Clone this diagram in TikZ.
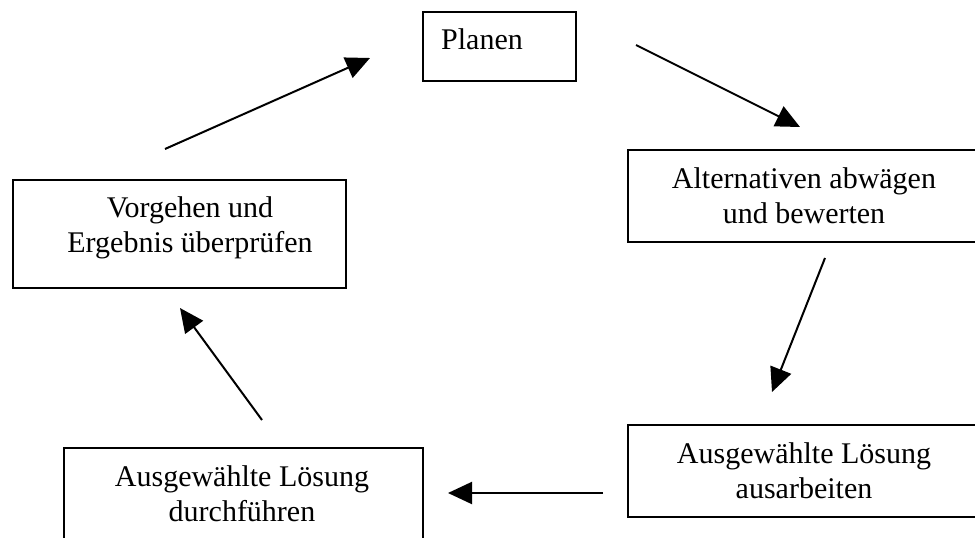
\documentclass[tikz,border=0pt]{standalone}
\usepackage{fontspec}
\setmainfont{Liberation Serif}
\usetikzlibrary{arrows.meta}
\begin{document}
\begin{tikzpicture}[x=1pt,y=-1pt,
  box/.style={draw=black, line width=2pt, rectangle, inner sep=0pt},
  txt/.style={inner sep=0pt, align=center, font=\fontsize{30}{35}\selectfont},
  arr/.style={line width=2pt, -{Triangle[length=24pt,width=22pt]}}]
\useasboundingbox (0,0) rectangle (975,538);
\clip (0,0) rectangle (975,538);
\fill[white] (0,0) rectangle (975,538);
% boxes
\node[box, minimum width=153pt, minimum height=69pt, anchor=north west] (plan) at (422,11) {};
\node[box, minimum width=360pt, minimum height=92pt, anchor=north west] (alt) at (627,149) {};
\node[box, minimum width=333pt, minimum height=108pt, anchor=north west] (vor) at (12,179) {};
\node[box, minimum width=360pt, minimum height=92pt, anchor=north west] (aus) at (627,424) {};
\node[box, minimum width=359pt, minimum height=110pt, anchor=north west] (durch) at (63,447) {};
% texts
\node[txt, anchor=west] (plantxt) at (441,39.5) {Planen};
\node[txt] (alttxt) at (804,195.5) {Alternativen abwägen\\und bewerten};
\node[txt] (vortxt) at (190,227.5) {Vorgehen und\\Ergebnis überprüfen};
\node[txt] (austxt) at (804,470.5) {Ausgewählte Lösung\\ausarbeiten};
\node[txt] (durchtxt) at (242,493.5) {Ausgewählte Lösung\\durchführen};
% arrow ends
\coordinate (a1s) at (165,149); \coordinate (a1e) at (370,58);
\coordinate (a2s) at (636,45);  \coordinate (a2e) at (800,127);
\coordinate (a3s) at (825,258); \coordinate (a3e) at (772,392);
\coordinate (a4s) at (603,493); \coordinate (a4e) at (448,493);
\coordinate (a5s) at (262,420); \coordinate (a5e) at (180,308);
\draw[arr] (a1s) -- (a1e);
\draw[arr] (a2s) -- (a2e);
\draw[arr] (a3s) -- (a3e);
\draw[arr] (a4s) -- (a4e);
\draw[arr] (a5s) -- (a5e);
\end{tikzpicture}
\end{document}
